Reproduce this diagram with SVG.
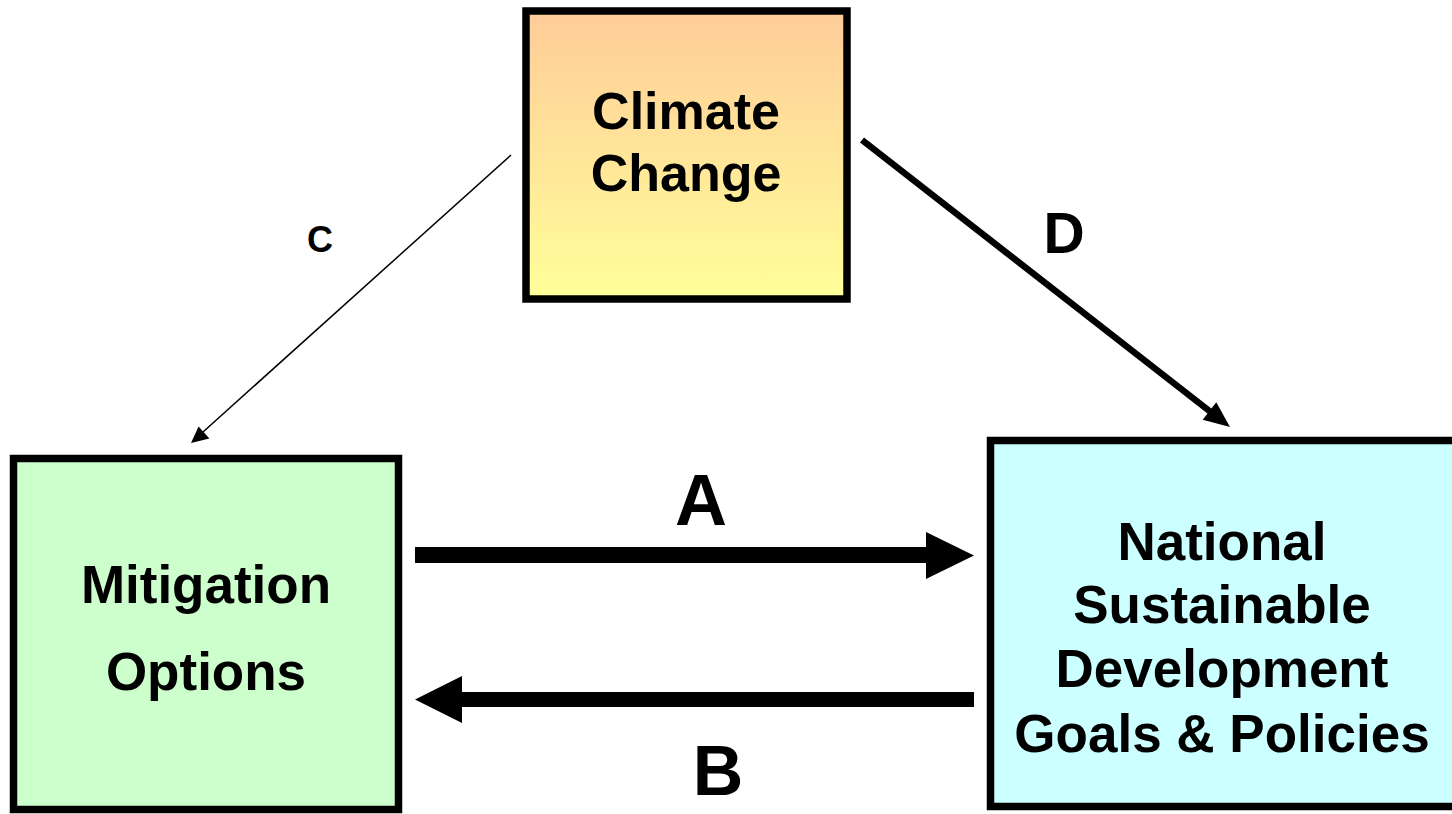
<svg xmlns="http://www.w3.org/2000/svg" width="1452" height="814" viewBox="0 0 1452 814">
<defs>
<linearGradient id="gClimate" x1="0" y1="0" x2="0" y2="1">
<stop offset="0" stop-color="#FFCC99"/>
<stop offset="1" stop-color="#FFFF99"/>
</linearGradient>
<style>
.box{stroke:#000;stroke-width:7.5}
.t{font-family:"Liberation Sans",Arial,sans-serif;font-weight:bold;fill:#000;text-anchor:middle}
</style>
</defs>
<rect width="1452" height="814" fill="#fff"/>
<g id="connectors">
<line x1="511" y1="155" x2="203" y2="432" stroke="#000" stroke-width="1.5"/>
<polygon points="191,443 198.6,426.5 209.4,438.5" fill="#000"/>
<line x1="862" y1="140" x2="1212" y2="413" stroke="#000" stroke-width="6.5"/>
<polygon points="1230,427 1202.7,419.7 1216.3,402.3" fill="#000"/>
<polygon points="415,547 926,547 926,532 974,555.5 926,579 926,563 415,563" fill="#000"/>
<polygon points="974,692 462,692 462,676 415,699.5 462,723 462,707 974,707" fill="#000"/>
<text class="t" x="701" y="525" font-size="72">A</text>
<text class="t" x="718" y="795" font-size="70">B</text>
<text class="t" x="320" y="252" font-size="36">C</text>
<text class="t" x="1064" y="253" font-size="57">D</text>
</g>
<g id="climate">
<rect class="box" x="526" y="11" width="321" height="288" fill="url(#gClimate)"/>
<text class="t" x="686" y="129" font-size="52">Climate</text>
<text class="t" x="686" y="191" font-size="52">Change</text>
</g>
<g id="mitigation">
<rect class="box" x="13.5" y="458.5" width="385" height="351" fill="#CCFFCC"/>
<text class="t" x="206" y="603" font-size="53">Mitigation</text>
<text class="t" x="206" y="690" font-size="53">Options</text>
</g>
<g id="national">
<rect class="box" x="990.5" y="440.5" width="480" height="366" fill="#CCFFFF"/>
<text class="t" x="1222" y="560" font-size="53">National</text>
<text class="t" x="1222" y="623" font-size="53">Sustainable</text>
<text class="t" x="1222" y="687" font-size="53">Development</text>
<text class="t" x="1222" y="752" font-size="53">Goals &amp; Policies</text>
</g>
</svg>
